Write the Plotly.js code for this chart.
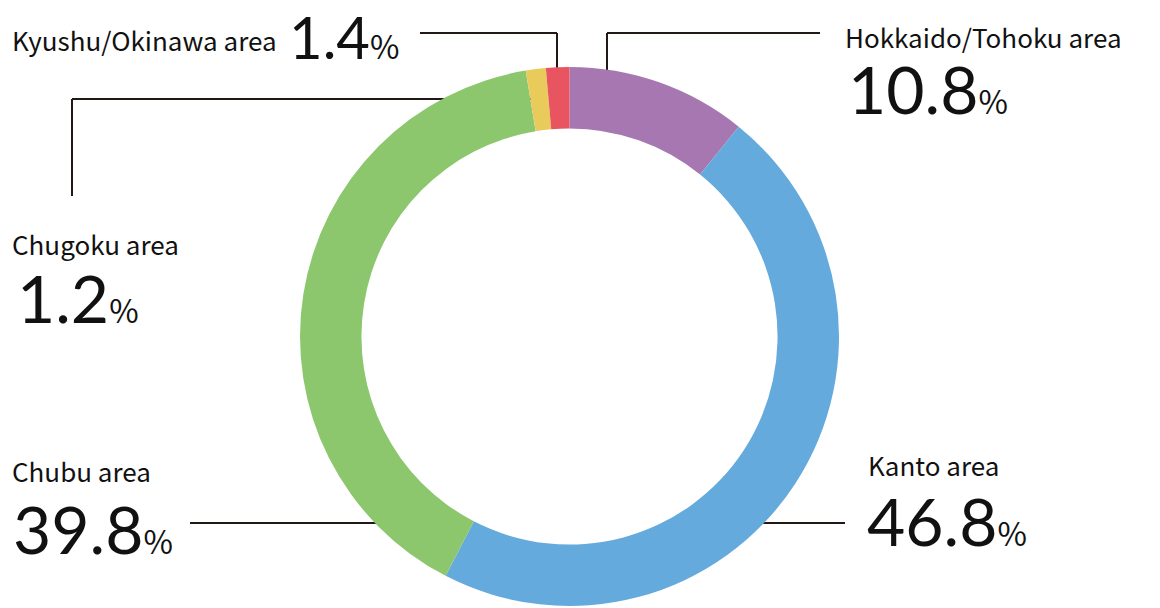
<!DOCTYPE html>
<html>
<head>
<meta charset="utf-8">
<script src="https://cdn.plot.ly/plotly-3.0.1.min.js"></script>
<style>html,body{margin:0;padding:0;background:#fff;}#chart{width:1160px;height:608px;}</style>
</head>
<body>
<div id="chart"></div>
<script>
const regions = ["Hokkaido/Tohoku area", "Kanto area", "Chubu area", "Chugoku area", "Kyushu/Okinawa area"];
const shares = [10.8, 46.8, 39.8, 1.2, 1.4];
const colors = ["#a677b0", "#65aadc", "#8dc76d", "#e9cb5b", "#e85560"];

const W = 1160, H = 608;
const px = x => x / W;
const py = y => (H - y) / H;

const labelFont = "'Noto Sans CJK JP', 'Noto Sans', sans-serif";

function valText(v, size) {
  return '<span style="font-family:Lato;font-size:' + size + 'px">' + v.toFixed(1) + '</span><span style="font-size:32px">%</span>';
}

// label positions (layout) per region index
const labelPos = [
  {lx: 843, ly: 36, vx: 846, vy: 88, size: 66, va: 'middle'},
  {lx: 866, ly: 464, vx: 865, vy: 520, size: 66, va: 'middle'},
  {lx: 10, ly: 470, vx: 11, vy: 528, size: 66, va: 'middle'},
  {lx: 10, ly: 243, vx: 15, vy: 297, size: 66, va: 'middle'},
  {lx: 10, ly: 40, vx: 287, vy: 0, size: 58, va: 'top'}
];

const annotations = [];
labelPos.forEach((p, i) => {
  annotations.push({xref: 'paper', yref: 'paper', x: px(p.lx), y: py(p.ly), xanchor: 'left', yanchor: 'middle',
    text: regions[i], showarrow: false, font: {family: labelFont, size: 26, color: '#111'}});
  annotations.push({xref: 'paper', yref: 'paper', x: px(p.vx), y: py(p.vy), xanchor: 'left', yanchor: p.va,
    text: valText(shares[i], p.size), showarrow: false, font: {family: labelFont, size: 26, color: '#111'}});
});

const lineStyle = {color: '#231815', width: 2};
function seg(x0, y0, x1, y1) {
  return {type: 'line', xref: 'paper', yref: 'paper', x0: px(x0), y0: py(y0), x1: px(x1), y1: py(y1), line: lineStyle, layer: 'below'};
}
const shapes = [
  seg(607, 80, 607, 33), seg(607, 33, 820, 33),
  seg(557, 80, 557, 33), seg(557, 33, 420, 33),
  seg(540, 99, 72, 99), seg(72, 99, 72, 196),
  seg(190, 523, 400, 523),
  seg(740, 523, 845, 523)
];

const data = [{
  type: 'pie',
  labels: regions,
  values: shares,
  sort: false,
  direction: 'clockwise',
  rotation: 0,
  hole: 0.772,
  marker: {colors: colors, line: {width: 0}},
  textinfo: 'none',
  hoverinfo: 'none',
  showlegend: false,
  domain: {x: [px(300), px(839)], y: [py(606), py(67)]}
}];

const layout = {
  width: W, height: H,
  margin: {l: 0, r: 0, t: 0, b: 0},
  paper_bgcolor: '#fff',
  showlegend: false,
  annotations: annotations,
  shapes: shapes
};

Plotly.newPlot('chart', data, layout, {displayModeBar: false, staticPlot: true});
</script>
</body>
</html>
